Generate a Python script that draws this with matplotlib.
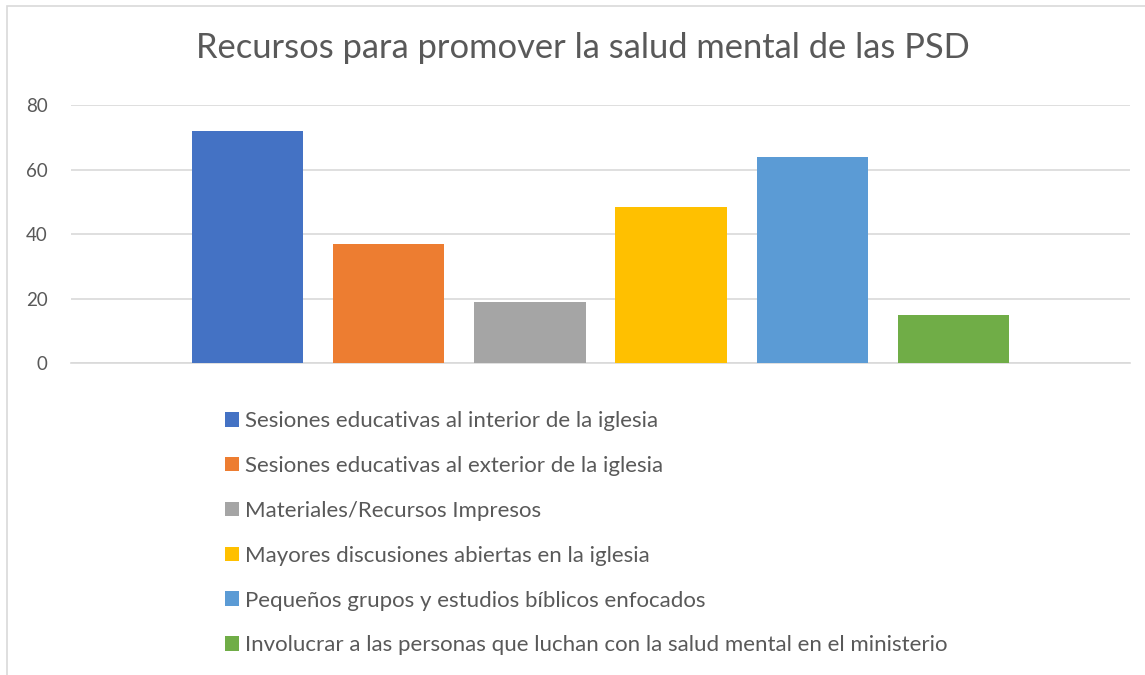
import matplotlib
matplotlib.use("Agg")
import matplotlib.pyplot as plt
from matplotlib.patches import Rectangle, Patch

plt.rcParams['font.family'] = ['Lato', 'DejaVu Sans']

categories = ["Sesiones educativas al interior de la iglesia",
              "Sesiones educativas al exterior de la iglesia",
              "Materiales/Recursos Impresos",
              "Mayores discusiones abiertas en la iglesia",
              "Pequeños grupos y estudios bíblicos enfocados",
              "Involucrar a las personas que luchan con la salud mental en el ministerio"]
values = [72, 37, 19, 48.5, 64, 15]
colors = ["#4472C4", "#ED7D31", "#A5A5A5", "#FFC000", "#5B9BD5", "#70AD47"]
yticks = [0, 20, 40, 60, 80]

text_color = "#595959"
grid_color = "#D9D9D9"

fig = plt.figure(figsize=(11.45, 6.75), dpi=100)
fig.patches.append(Rectangle((7 / 1145, -0.01), 1.0, 1 - 6 / 675 + 0.01,
                             transform=fig.transFigure, fill=False,
                             edgecolor=grid_color, linewidth=1.2))

ax = fig.add_axes([71 / 1145, 1 - 363.3 / 675, (1130 - 71) / 1145, (363.3 - 105) / 675])
x = list(range(len(values)))
ax.bar(x, values, width=0.79, color=colors, zorder=3)
ax.set_xlim(-1.25, 6.25)
ax.set_ylim(0, 80)
ax.set_yticks(yticks)
ax.set_xticks([])
ax.grid(axis='y', color=grid_color, linewidth=1.2, zorder=0)
for s in ['top', 'right', 'left']:
    ax.spines[s].set_visible(False)
ax.spines['bottom'].set_color(grid_color)
ax.spines['bottom'].set_linewidth(1.2)
ax.tick_params(axis='y', length=0, labelsize=13.5, labelcolor=text_color, pad=17)

fig.text(583 / 1145, 1 - 48 / 675, "Recursos para promover la salud mental de las PSD",
         ha='center', va='center', fontsize=24.8, color=text_color)

handles = [Patch(facecolor=c, edgecolor='none') for c in colors]
fig.legend(handles, categories, loc='upper left', bbox_to_anchor=(225 / 1145, 1 - 411 / 675),
           frameon=False, ncol=1, fontsize=16, labelcolor=text_color,
           borderpad=0, borderaxespad=0,
           handlelength=0.64, handleheight=0.64, handletextpad=0.25, labelspacing=1.12)

fig.savefig("out.png", dpi=100, facecolor='white')
